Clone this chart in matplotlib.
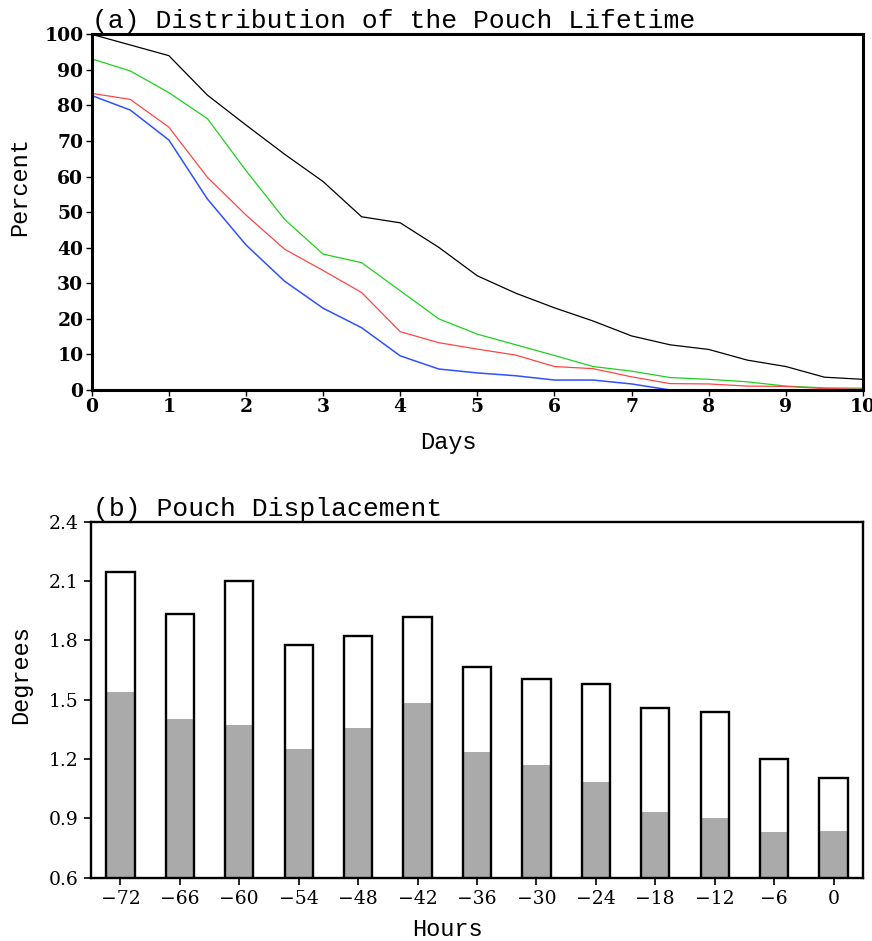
import numpy as np
import matplotlib
matplotlib.use("Agg")
import matplotlib.pyplot as plt
from matplotlib.ticker import FixedLocator, FuncFormatter

# ---- data -------------------------------------------------------------
days = [0, 0.5, 1, 1.5, 2, 2.5, 3, 3.5, 4, 4.5, 5, 5.5, 6, 6.5, 7, 7.5,
        8, 8.5, 9, 9.5, 10]

lifetime_black = [100, 97.0, 94.0, 82.9, 74.5, 66.3, 58.6, 48.7, 47.0, 40.1,
                  32.1, 27.2, 23.1, 19.4, 15.2, 12.7, 11.4, 8.4, 6.6, 3.6, 3.0]
lifetime_green = [93.1, 89.7, 83.6, 76.3, 61.7, 48.0, 38.2, 35.8, 27.9, 20.0,
                  15.7, 12.7, 9.7, 6.6, 5.3, 3.5, 3.0, 2.3, 1.1, 0.6, 0.5]
lifetime_red = [83.4, 81.7, 73.9, 59.8, 49.2, 39.6, 33.6, 27.4, 16.4, 13.3,
                11.5, 9.8, 6.6, 6.0, 3.7, 1.8, 1.7, 1.1, 1.0, 0.4, 0.2]
lifetime_blue = [82.8, 78.7, 70.3, 53.7, 40.8, 30.6, 23.0, 17.5, 9.6, 5.9,
                 4.8, 4.0, 2.8, 2.8, 1.7, 0.0, 0.0, 0.0, 0.0, 0.0, 0.0]

hours = [-72, -66, -60, -54, -48, -42, -36, -30, -24, -18, -12, -6, 0]
displacement_total = [2.147, 1.931, 2.102, 1.775, 1.824, 1.918, 1.665,
                      1.604, 1.579, 1.458, 1.439, 1.202, 1.104]
displacement_inner = [1.539, 1.402, 1.372, 1.251, 1.357, 1.483, 1.235,
                      1.170, 1.084, 0.932, 0.902, 0.831, 0.836]

top_xticks = list(range(0, 11))
top_yticks = list(range(0, 101, 10))
bot_yticks = [0.6, 0.9, 1.2, 1.5, 1.8, 2.1, 2.4]

# ---- styling -----------------------------------------------------------
TITLE_FONT = dict(family="Liberation Mono", size=19)
LABEL_FONT = dict(family="Liberation Mono", size=17)
TICK_FONT = "DejaVu Serif"
W, H = 872, 941
DPI = 100

fig = plt.figure(figsize=(W / DPI, H / DPI), dpi=DPI)

# ---- panel (a): lifetime distribution ----------------------------------
ax1 = fig.add_axes([91.7 / W, 1 - 390 / H, (863 - 91.7) / W, (390 - 34.3) / H])
ax1.plot(days, lifetime_black, color="black", lw=0.9)
ax1.plot(days, lifetime_green, color="#1ed01e", lw=0.9)
ax1.plot(days, lifetime_red, color="#ff4545", lw=0.9)
ax1.plot(days, lifetime_blue, color="#3050ff", lw=1.1)
ax1.set_xlim(0, 10)
ax1.set_ylim(0, 100)
ax1.xaxis.set_major_locator(FixedLocator(top_xticks))
ax1.yaxis.set_major_locator(FixedLocator(top_yticks))
for s in ax1.spines.values():
    s.set_linewidth(2.2)
ax1.tick_params(direction="out", length=4, width=1.0, pad=2,
                labelsize=13.5, top=False, right=False)
for lab in ax1.get_xticklabels() + ax1.get_yticklabels():
    lab.set_family(TICK_FONT)
    lab.set_fontweight("bold")
ax1.text(0.0, 1.017, "(a) Distribution of the Pouch Lifetime",
         transform=ax1.transAxes, ha="left", va="baseline", **TITLE_FONT)

fig.text(448 / W, 1 - 443 / H, "Days", ha="center", va="center", **LABEL_FONT)
fig.text(20 / W, 1 - 187 / H, "Percent", ha="center", va="center",
         rotation=90, **LABEL_FONT)

# ---- panel (b): pouch displacement -------------------------------------
ax2 = fig.add_axes([90.7 / W, 1 - 877.7 / H, (863.3 - 90.7) / W,
                    (877.7 - 521.7) / H])
ax2.bar(hours, displacement_inner, width=2.85, bottom=0,
        color="#aaaaaa", edgecolor="none", zorder=2)
ax2.bar(hours, displacement_total, width=2.85, bottom=0,
        facecolor="none", edgecolor="black", linewidth=1.7, zorder=3)
ax2.set_xlim(-75, 3)
ax2.set_ylim(0.6, 2.4)
ax2.xaxis.set_major_locator(FixedLocator(hours))
ax2.yaxis.set_major_locator(FixedLocator(bot_yticks))
ax2.xaxis.set_major_formatter(FuncFormatter(
    lambda v, p: ("\u2212%d" % abs(v)) if v < 0 else "%d" % v))
ax2.yaxis.set_major_formatter(FuncFormatter(lambda v, p: "%.1f" % v))
for s in ax2.spines.values():
    s.set_linewidth(1.7)
    s.set_zorder(4)
ax2.tick_params(direction="out", length=5, width=1.2, pad=4,
                labelsize=13.5, top=False, right=False)
for lab in ax2.get_xticklabels() + ax2.get_yticklabels():
    lab.set_family(TICK_FONT)
ax2.text(0.003, 1.016, "(b) Pouch Displacement",
         transform=ax2.transAxes, ha="left", va="baseline", **TITLE_FONT)

fig.text(447 / W, 1 - 930 / H, "Hours", ha="center", va="center", **LABEL_FONT)
fig.text(21 / W, 1 - 675 / H, "Degrees", ha="center", va="center",
         rotation=90, **LABEL_FONT)

fig.savefig("out.png", dpi=DPI)
